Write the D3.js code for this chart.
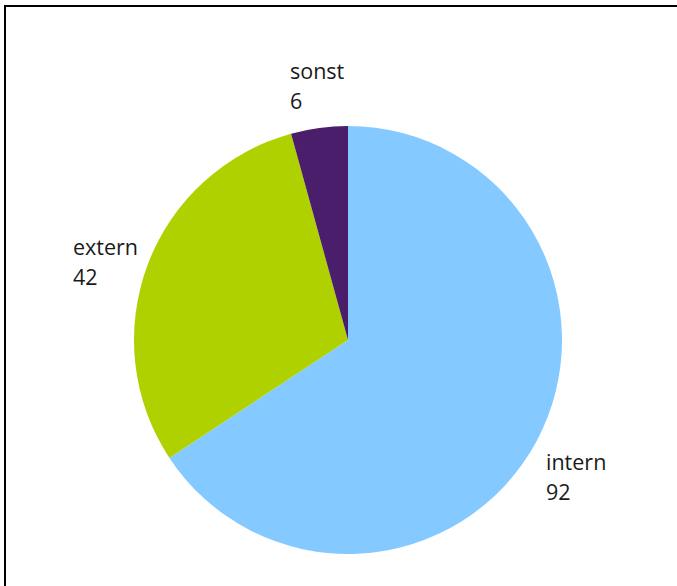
<!DOCTYPE html>
<html><head><meta charset="utf-8">
<script src="https://cdn.jsdelivr.net/npm/d3@7"></script>
<style>html,body{margin:0;padding:0;background:#fff;overflow:hidden}</style>
</head><body>
<svg id="c" width="677" height="586"></svg>
<script>
const categories = ["intern", "extern", "sonst"];
const values = [92, 42, 6];
const colors = ["#84C9FF", "#B0D100", "#4B1E6C"];

const svg = d3.select("#c");
svg.append("rect").attr("x", 5).attr("y", 6).attr("width", 720).attr("height", 620)
  .attr("fill", "#fff").attr("stroke", "#000").attr("stroke-width", 2);

const cx = 348, cy = 340, r = 214;
const data = categories.map((c, i) => ({cat: c, val: values[i], color: colors[i]}));
const pie = d3.pie().value(d => d.val).sort(null);
const arc = d3.arc().innerRadius(0).outerRadius(r);
const g = svg.append("g").attr("transform", `translate(${cx},${cy})`);
g.selectAll("path").data(pie(data)).join("path")
  .attr("d", arc).attr("fill", d => d.data.color);

// label anchors (baseline of first line), relative to pie centre
const labelPos = {intern: [198, 130], extern: [-275, -85], sonst: [-58, -261]};
const lg = svg.append("g");
data.forEach(d => {
  const [dx, dy] = labelPos[d.cat];
  const t = lg.append("text").attr("x", cx + dx).attr("y", cy + dy)
    .attr("font-family", "'Open Sans', sans-serif").attr("font-size", 21.5).attr("fill", "#1a1a1a");
  t.append("tspan").attr("x", cx + dx).text(d.cat);
  t.append("tspan").attr("x", cx + dx).attr("dy", 30).text(d.val);
});
</script>
</body></html>
